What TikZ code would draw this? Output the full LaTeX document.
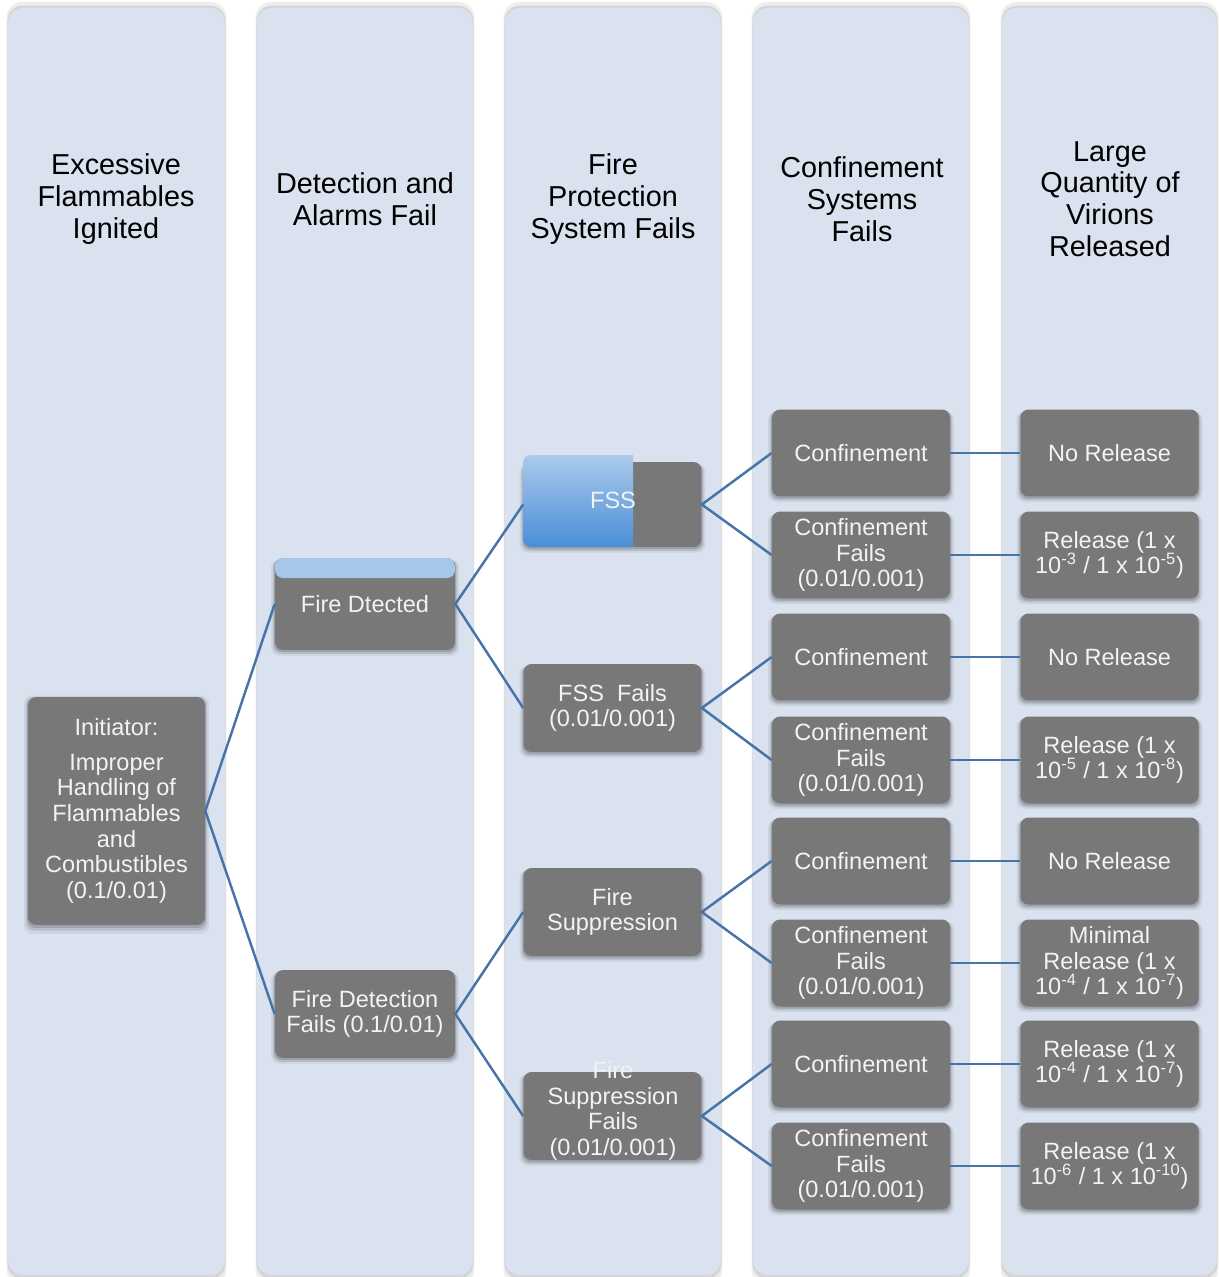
\documentclass[tikz,border=0pt]{standalone}
\usepackage{fontspec}
\setmainfont{Liberation Sans}
\usetikzlibrary{shadows}
\definecolor{colbg}{HTML}{D9E2EE}
\definecolor{boxgray}{HTML}{787878}
\definecolor{linkblue}{HTML}{4674A8}
\definecolor{bandblue}{HTML}{A6C6EA}
\definecolor{fsstop}{HTML}{AACAEC}
\definecolor{fssbot}{HTML}{4A8ED5}
\definecolor{boxtext}{HTML}{F3F3F3}
\begin{document}
\begin{tikzpicture}[x=0.02cm, y=-0.02cm,
  softshadow/.style={
    general shadow={fill=black, opacity=0.06, shadow scale=1.045, shadow yshift=-2pt},
    general shadow={fill=black, opacity=0.10, shadow scale=1.025, shadow yshift=-1.5pt},
    general shadow={fill=black, opacity=0.14, shadow scale=1.01, shadow yshift=-1pt}},
  lane/.style={fill=colbg, rounded corners=0.3cm,
    general shadow={fill=black, opacity=0.07, shadow xshift=0pt, shadow yshift=-1pt, shadow scale=1.012},
    general shadow={fill=black, opacity=0.10, shadow xshift=0pt, shadow yshift=-0.5pt, shadow scale=1.005}},
  head/.style={align=center, font=\fontsize{16.4}{18.1}\selectfont, text=black},
  evt/.style={fill=boxgray, rounded corners=0.16cm, text=boxtext, align=center,
    inner sep=1pt, minimum width=3.56cm, minimum height=1.74cm,
    font=\fontsize{13.4}{14.6}\selectfont, softshadow},
  evtlabel/.style={text=boxtext, align=center, inner sep=0pt, font=\fontsize{13.4}{14.6}\selectfont},
  branch/.style={draw=linkblue, line width=1.4pt}
]
\useasboundingbox (0,0) rectangle (1218,1277);

% swim lanes
\path[lane] (8,8) rectangle (225,1275);
\path[lane] (257,8) rectangle (473,1275);
\path[lane] (505,8) rectangle (721,1275);
\path[lane] (753,8) rectangle (969,1275);
\path[lane] (1002,8) rectangle (1217,1275);

% lane headings
\node[head] (h1) at (116,199) {Excessive\\Flammables\\Ignited};
\node[head] (h2) at (365,199) {Detection and\\Alarms Fail};
\node[head] (h3) at (613,199) {Fire\\Protection\\System Fails};
\node[head] (h4) at (862,199) {Confinement\\Systems\\Fails};
\node[head] (h5) at (1110,199) {Large\\Quantity of\\Virions\\Released};

% initiating event
\node[evt, minimum width=3.54cm, minimum height=4.56cm] (init) at (116.5,811)
  {Initiator:\\[5pt]Improper\\Handling of\\Flammables\\and\\Combustibles\\(0.1/0.01)};

% detection branch
\node[evt, minimum width=3.6cm, minimum height=1.84cm,
  path picture={\fill[bandblue] (path picture bounding box.north west) rectangle ([yshift=-0.4cm]path picture bounding box.north east);}]
  (fd) at (365,604) {Fire Dtected};
\node[evt, minimum width=3.6cm, minimum height=1.76cm] (fdf) at (365,1014) {Fire Detection\\Fails (0.1/0.01)};

% fire protection branch
\node[evt, minimum height=1.7cm] (fss) at (612.5,504.5) {};
\shade[top color=fsstop, bottom color=fssbot]
  (633,455) [rounded corners=0.16cm] -- (523,455) -- (523,547) [sharp corners] -- (633,547) -- cycle;
\node[evtlabel] (fsslabel) at (613,500) {FSS};
\node[evt, minimum height=1.76cm] (fssf) at (612.5,708) {FSS\ \ Fails\\(0.01/0.001)};
\node[evt, minimum height=1.76cm] (sup) at (612.5,912) {Fire\\Suppression};
\node[evt, minimum height=1.76cm] (supf) at (612.5,1116) {};
\node[evtlabel] (supflabel) at (613,1111) {Fire\\Suppression\\Fails\\(0.01/0.001)};

% confinement lane
\node[evt] (c1) at (861,453) {Confinement};
\node[evt] (c2) at (861,555) {Confinement\\Fails\\(0.01/0.001)};
\node[evt] (c3) at (861,657) {Confinement};
\node[evt] (c4) at (861,760) {Confinement\\Fails\\(0.01/0.001)};
\node[evt] (c5) at (861,861) {Confinement};
\node[evt] (c6) at (861,963) {Confinement\\Fails\\(0.01/0.001)};
\node[evt] (c7) at (861,1064) {Confinement};
\node[evt] (c8) at (861,1166) {Confinement\\Fails\\(0.01/0.001)};

% outcomes
\node[evt] (r1) at (1109.5,453) {No Release};
\node[evt] (r2) at (1109.5,555) {Release (1 x\\10\textsuperscript{-3} / 1 x 10\textsuperscript{-5})};
\node[evt] (r3) at (1109.5,657) {No Release};
\node[evt] (r4) at (1109.5,760) {Release (1 x\\10\textsuperscript{-5} / 1 x 10\textsuperscript{-8})};
\node[evt] (r5) at (1109.5,861) {No Release};
\node[evt] (r6) at (1109.5,963) {Minimal\\Release (1 x\\10\textsuperscript{-4} / 1 x 10\textsuperscript{-7})};
\node[evt] (r7) at (1109.5,1064) {Release (1 x\\10\textsuperscript{-4} / 1 x 10\textsuperscript{-7})};
\node[evt] (r8) at (1109.5,1166) {Release (1 x\\10\textsuperscript{-6} / 1 x 10\textsuperscript{-10})};

% branches
\draw[branch] (fd.west) -- (init.east) -- (fdf.west);
\draw[branch] (fss.west) -- (fd.east) -- (fssf.west);
\draw[branch] (sup.west) -- (fdf.east) -- (supf.west);
\draw[branch] (c1.west) -- (fss.east) -- (c2.west);
\draw[branch] (c3.west) -- (fssf.east) -- (c4.west);
\draw[branch] (c5.west) -- (sup.east) -- (c6.west);
\draw[branch] (c7.west) -- (supf.east) -- (c8.west);
\foreach \i in {1,...,8} {\draw[branch] (c\i.east) -- (r\i.west);}
\end{tikzpicture}
\end{document}
